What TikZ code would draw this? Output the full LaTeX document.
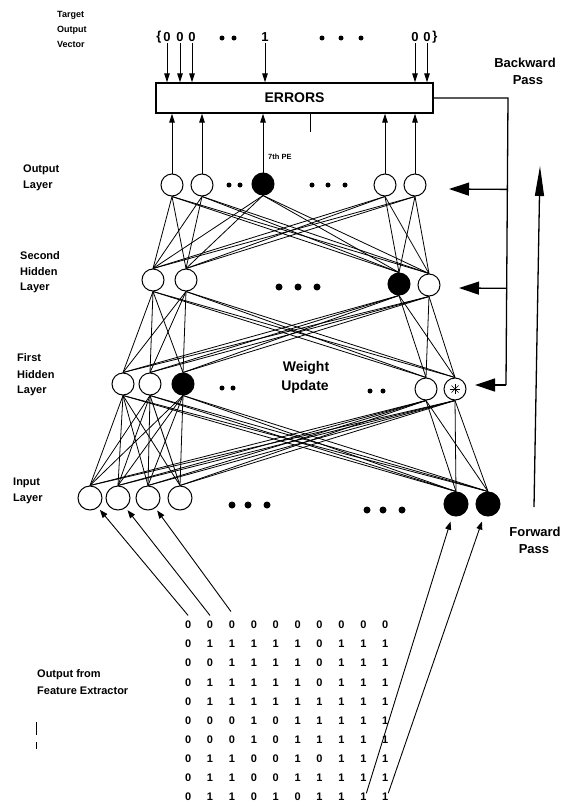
\documentclass[tikz,border=0pt]{standalone}
\usepackage{fontspec}
\setmainfont{Liberation Sans}
\usetikzlibrary{arrows.meta,matrix,calc}
\begin{document}
\begin{tikzpicture}[x=1pt,y=-1pt,
  neuron/.style={circle,draw,line width=1pt,fill=white,inner sep=0,minimum size=22pt},
  bigneuron/.style={neuron,minimum size=24pt},
  fired/.style={fill=black},
  conn/.style={line width=0.8pt},
  lab/.style={font=\fontsize{11}{13}\selectfont\bfseries,anchor=west,inner sep=0,text height=8pt,text depth=2pt},
  smalllab/.style={font=\fontsize{9}{11}\selectfont\bfseries,anchor=west,inner sep=0,text height=7pt,text depth=2pt},
  passlab/.style={font=\fontsize{13}{15}\selectfont\bfseries,inner sep=0,text height=9pt,text depth=3pt},
  vecdigit/.style={font=\fontsize{13}{15}\selectfont\bfseries,inner sep=1pt},
  sarrow/.style={line width=0.9pt,-{Triangle[width=5.5pt,length=9pt]}},
  iarrow/.style={line width=0.9pt,-{Triangle[width=6pt,length=8pt]}},
  barrow/.style={line width=1.3pt,-{Triangle[width=13pt,length=20pt]}},
  farrow/.style={line width=1.3pt,-{Triangle[width=9pt,length=30pt]}}
]
\useasboundingbox[fill=white] (0,0) rectangle (575,806);

% ---------- left labels ----------
\node[smalllab] (lt1) at (57,15) {Target};
\node[smalllab] (lt2) at (57,30) {Output};
\node[smalllab] (lt3) at (57,45) {Vector};
\node[lab] (lo1) at (23,169) {Output};
\node[lab] (lo2) at (23,185) {Layer};
\node[lab] (ls1) at (20,256) {Second};
\node[lab] (ls2) at (20,272) {Hidden};
\node[lab] (ls3) at (20,287) {Layer};
\node[lab] (lf1) at (17,358) {First};
\node[lab] (lf2) at (17,375) {Hidden};
\node[lab] (lf3) at (17,390) {Layer};
\node[lab] (li1) at (13,482) {Input};
\node[lab] (li2) at (13,498) {Layer};
\node[lab] (lx1) at (37,674) {Output from};
\node[lab] (lx2) at (37,691) {Feature Extractor};
\draw[line width=1pt] (36,722) -- (36,735);
\draw[line width=0.6pt] (36,742) -- (36,749);

% ---------- pass labels ----------
\node[passlab] (bw1) at (525,64) {Backward};
\node[passlab] (bw2) at (528,81) {Pass};
\node[passlab] (fw1) at (535,533) {Forward};
\node[passlab] (fw2) at (534,550) {Pass};

% ---------- target vector ----------
\node[vecdigit] (tb0) at (159,37) {\{};
\node[vecdigit] (t1) at (167,37) {0};
\node[vecdigit] (t2) at (180,37) {0};
\node[vecdigit] (t3) at (192,37) {0};
\node[vecdigit] (t4) at (265,37) {1};
\node[vecdigit] (t5) at (415,37) {0};
\node[vecdigit] (t6) at (427,37) {0};
\node[vecdigit] (tb1) at (435,37) {\}};
\foreach \x in {222,234,322,341,361} \fill (\x,38) circle (2.5pt);

% ---------- errors box ----------
\node[draw,line width=1.3pt,minimum width=277pt,minimum height=30pt,inner sep=0,
      font=\fontsize{14}{16}\selectfont\bfseries] (err) at (294.5,98) {ERRORS};
\draw[line width=0.5pt] (310,113) -- (310,132);
\foreach \t in {t1,t2,t3,t4,t5,t6}
  \draw[sarrow] (\t.south) -- (\t.south |- err.north);

% ---------- output layer ----------
\node[neuron] (o1) at (172,185) {};
\node[neuron] (o2) at (202,185) {};
\node[neuron,fired] (o3) at (263,184) {};
\node[neuron] (o4) at (385,185) {};
\node[neuron] (o5) at (415,185) {};
\foreach \x in {229,240,312,328,345} \fill (\x,185) circle (2.5pt);
\node[font=\fontsize{7.5}{8}\selectfont\bfseries,anchor=west,inner sep=0] (pe) at (268,157) {7th PE};
\foreach \o in {o1,o2,o3,o4,o5}
  \draw[sarrow] (\o.north) -- (\o.north |- err.south);

% ---------- second hidden layer ----------
\node[neuron] (s1) at (153,280) {};
\node[neuron] (s2) at (186,280) {};
\node[neuron,fired] (s3) at (399,284) {};
\node[neuron] (s4) at (429,285) {};
\foreach \x in {279,298,317} \fill (\x,287) circle (3.5pt);

% ---------- first hidden layer ----------
\node[neuron] (h1) at (123,384) {};
\node[neuron] (h2) at (150,384) {};
\node[neuron,fired] (h3) at (183,384) {};
\node[neuron] (h4) at (426,389) {};
\node[neuron] (h5) at (455,389) {};
\foreach \a in {0,45,90,135}
  \draw[line width=0.6pt] ($(h5.center)+(\a:5pt)$) -- ($(h5.center)+(\a+180:5pt)$);
\foreach \x in {222,233} \fill (\x,388) circle (2.5pt);
\foreach \x in {370,383} \fill (\x,391) circle (2.5pt);
\node[font=\fontsize{14}{16}\selectfont\bfseries,inner sep=0] (wu1) at (306,368) {Weight};
\node[font=\fontsize{14}{16}\selectfont\bfseries,inner sep=0] (wu2) at (305,387) {Update};

% ---------- input layer ----------
\node[bigneuron] (i1) at (90,498) {};
\node[bigneuron] (i2) at (118,498) {};
\node[bigneuron] (i3) at (148,498) {};
\node[bigneuron] (i4) at (180,498) {};
\node[bigneuron,fired] (i5) at (456,504) {};
\node[bigneuron,fired] (i6) at (488,504) {};
\foreach \x in {232,248,267} \fill (\x,505) circle (3.5pt);
\foreach \x in {367,383,402} \fill (\x,510) circle (3.5pt);

% ---------- connections ----------
\foreach \u in {o1,o2,o3,o4,o5}
  \foreach \l in {s1,s2,s3,s4}
    \draw[conn] (\u.south) -- (\l.north);
\foreach \u in {s1,s2,s3,s4}
  \foreach \l in {h1,h2,h3,h4,h5}
    \draw[conn] (\u.south) -- (\l.north);
\foreach \u in {h1,h2,h3,h4,h5}
  \foreach \l in {i1,i2,i3,i4,i5,i6}
    \draw[conn] (\u.south) -- (\l.north);

% ---------- feature extractor output ----------
\matrix (m) [matrix of nodes, anchor=north west, inner sep=0pt, row sep=0pt, column sep=0pt,
  nodes={font=\fontsize{11}{11}\selectfont\bfseries, inner sep=0pt, minimum width=21.9pt, minimum height=19pt}]
  at (177,615.5) {
0 & 0 & 0 & 0 & 0 & 0 & 0 & 0 & 0 & 0 \\
0 & 1 & 1 & 1 & 1 & 1 & 0 & 1 & 1 & 1 \\
0 & 0 & 1 & 1 & 1 & 1 & 0 & 1 & 1 & 1 \\
0 & 1 & 1 & 1 & 1 & 1 & 0 & 1 & 1 & 1 \\
0 & 1 & 1 & 1 & 1 & 1 & 1 & 1 & 1 & 1 \\
0 & 0 & 0 & 1 & 0 & 1 & 1 & 1 & 1 & 1 \\
0 & 0 & 0 & 1 & 0 & 1 & 1 & 1 & 1 & 1 \\
0 & 1 & 1 & 0 & 0 & 1 & 0 & 1 & 1 & 1 \\
0 & 1 & 1 & 0 & 0 & 1 & 1 & 1 & 1 & 1 \\
0 & 1 & 1 & 0 & 1 & 0 & 1 & 1 & 1 & 1 \\
};
\draw[iarrow,shorten >=3pt] (m-1-1.north) -- (i1);
\draw[iarrow,shorten >=3pt] (m-1-2.north) -- (i2);
\draw[iarrow,shorten >=3pt] ($(m-1-3.north)+(-1,-4)$) coordinate (ms3) -- (i3);
\coordinate (r1) at ($(m-10-9.center)+(3,-3)$);
\coordinate (r2) at ($(m-10-10.center)+(3,-3)$);
\draw[iarrow,shorten >=6pt] (r1) -- (i5);
\draw[iarrow,shorten >=6pt] (r2) -- (i6);

% ---------- backward pass ----------
\coordinate (bt) at (508,98);
\coordinate (bb) at (506,385);
\coordinate (tipo) at (449,189);
\coordinate (tips) at (459,288);
\coordinate (tiph) at (475,385);
\draw[line width=1.3pt] (err.east) -- (bt) -- (bb);
\draw[barrow] (bb) -- (tiph);
\draw[barrow] ($(bt)!(tipo)!(bb)$) -- (tipo);
\draw[barrow] ($(bt)!(tips)!(bb)$) -- (tips);

% ---------- forward pass ----------
\coordinate (fb) at (534,507);
\coordinate (ft) at (540,166);
\draw[farrow] (fb) -- (ft);
\end{tikzpicture}
\end{document}
